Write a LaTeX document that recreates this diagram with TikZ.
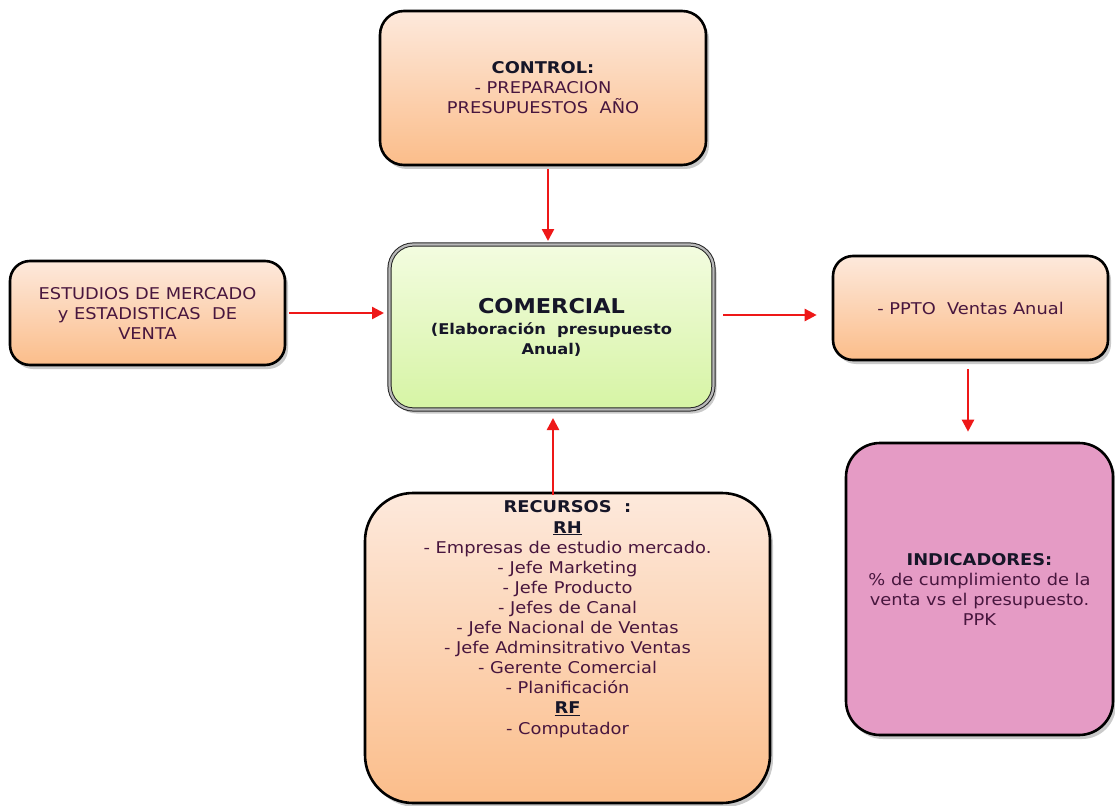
\documentclass[tikz,border=0pt]{standalone}
\usepackage{fontspec}
\setmainfont{DejaVu Sans}[FakeStretch=1.1]
\usetikzlibrary{shadows,arrows.meta}

\definecolor{peachtop}{RGB}{253,233,220}
\definecolor{peachbot}{RGB}{251,189,138}
\definecolor{greentop}{RGB}{243,252,224}
\definecolor{greenbot}{RGB}{214,244,164}
\definecolor{pinkfill}{RGB}{229,155,197}
\definecolor{bodytext}{RGB}{72,22,62}
\definecolor{headtext}{RGB}{22,22,40}
\definecolor{linkred}{RGB}{238,24,24}

\tikzset{
  box/.style={rounded corners=24pt, draw=black, line width=2.6pt,
    align=center, text=bodytext, inner sep=0pt,
    font=\fontsize{16.2}{20}\selectfont,
    drop shadow={shadow xshift=3pt, shadow yshift=-4pt, opacity=0.35, fill=black!60}},
  peach/.style={box, top color=peachtop, bottom color=peachbot},
  centralbox/.style={box, draw=black!85, line width=1pt, double=gray!55,
    double distance=2.2pt, top color=greentop, bottom color=greenbot},
  pinkbox/.style={box, fill=pinkfill},
  link/.style={draw=linkred, line width=2.4pt,
    -{Triangle[length=12pt, width=12pt]}}
}

\begin{document}
\begin{tikzpicture}[x=1pt, y=-1pt]
\path[use as bounding box] (0,0) rectangle (1115,805);

% process boxes
\node[peach, minimum width=326pt, minimum height=154pt] (control) at (543,88)
  {\textbf{\color{headtext}CONTROL:}\\- PREPARACION\\PRESUPUESTOS~ AÑO};

\node[peach, rounded corners=20pt, minimum width=275pt, minimum height=104pt] (estudios) at (147.5,313)
  {ESTUDIOS DE MERCADO\\y ESTADISTICAS~ DE\\VENTA};

\node[centralbox, minimum width=324pt, minimum height=165pt] (comercial) at (551.5,327)
  {\textbf{\color{headtext}\fontsize{20.4}{24}\selectfont COMERCIAL}\\[1pt]
   \textbf{\color{headtext}\fontsize{14.8}{20}\selectfont(Elaboración~ presupuesto}\\
   \textbf{\color{headtext}\fontsize{14.8}{20}\selectfont Anual)}};

\node[peach, rounded corners=20pt, minimum width=275pt, minimum height=104pt] (ppto) at (970.5,308)
  {- PPTO~ Ventas Anual};

\node[pinkbox, rounded corners=34pt, minimum width=267pt, minimum height=292pt] (indicadores) at (979.5,589)
  {\textbf{\color{headtext}INDICADORES:}\\\% de cumplimiento de la\\venta vs el presupuesto.\\PPK};

\node[peach, rounded corners=48pt, minimum width=405pt, minimum height=310pt] (recursos) at (567.5,648) {};
\node[anchor=north, align=center, text=bodytext, inner sep=0pt,
      font=\fontsize{16.2}{20.1}\selectfont] (recursostext) at ([yshift=-9pt]recursos.north)
  {\textbf{\color{headtext}RECURSOS~ :}\\
   \textbf{\color{headtext}\underline{RH}}\\
   - Empresas de estudio mercado.\\
   - Jefe Marketing\\
   - Jefe Producto\\
   - Jefes de Canal\\
   - Jefe Nacional de Ventas\\
   - Jefe Adminsitrativo Ventas\\
   - Gerente Comercial\\
   - Planificación\\
   \textbf{\color{headtext}\underline{RF}}\\
   - Computador};

% connector anchor points
\coordinate (c1) at ([yshift=-7pt]comercial.east |- ppto.west);
\coordinate (c2) at ([yshift=-7pt]ppto.west);

% connectors
\draw[link, shorten <=3pt, shorten >=3pt]
  ([xshift=5pt]control.south) -- ([xshift=-3.5pt]comercial.north);
\draw[link, shorten <=3pt, shorten >=5pt]
  (estudios.east) -- (estudios.east -| comercial.west);
\draw[link, shorten <=9pt, shorten >=15pt] (c1) -- (c2);
\draw[link, shorten <=8pt, shorten >=10pt]
  ([xshift=-2.5pt]ppto.south) -- ([xshift=-2.5pt]ppto.south |- indicadores.north);
\draw[link, shorten <=-3pt, shorten >=8pt]
  ([xshift=1.5pt]comercial.south |- recursos.north) -- ([xshift=1.5pt]comercial.south);

\end{tikzpicture}
\end{document}
